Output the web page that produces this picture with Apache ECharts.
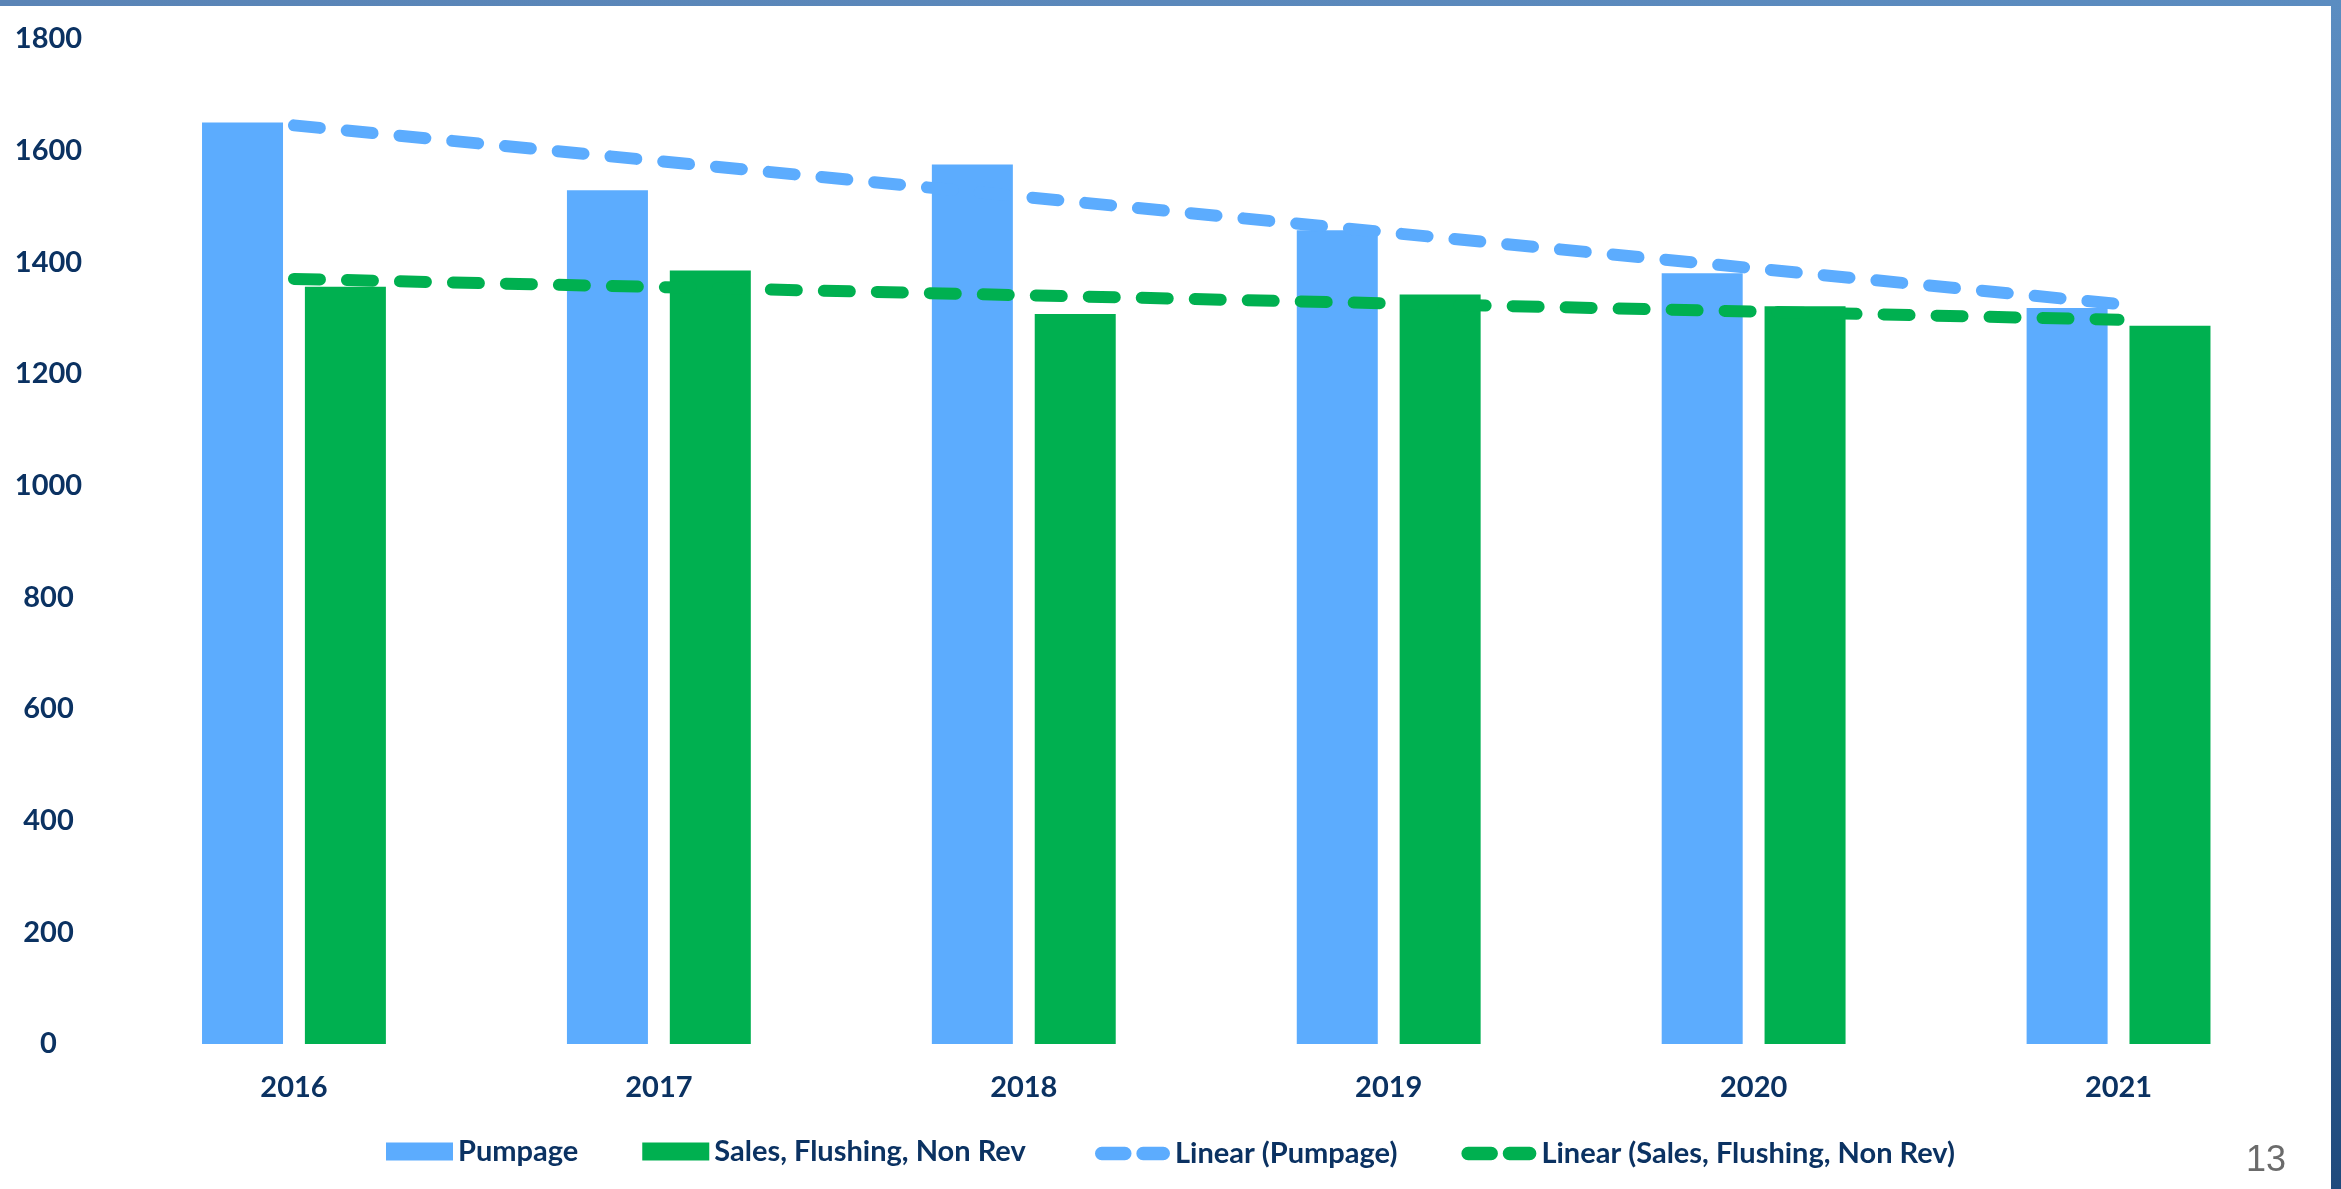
<!DOCTYPE html>
<html>
<head>
<meta charset="utf-8">
<script src="https://cdn.jsdelivr.net/npm/echarts@6/dist/echarts.min.js"></script>
<style>
html,body{margin:0;padding:0;background:#fff;}
#c{width:2341px;height:1189px;}
</style>
</head>
<body>
<div id="c"></div>
<script>
const categories = ['2016','2017','2018','2019','2020','2021'];
const pumpage = [1650, 1529, 1575, 1457, 1380, 1318];
const sales = [1356, 1385, 1307, 1342, 1321, 1286];
// trend lines: endpoints
const pumpageTrend = [1645, null, null, null, null, 1325];
const salesTrend = [1370, null, null, null, null, 1297];
const yTicks = {min: 0, max: 1800, interval: 200};

const navy = '#0b3262';
const blue = '#5cacfe';
const green = '#00b050';
const font = 'Lato, "Open Sans", sans-serif';
const dashIcon = 'path://M7,0 H31 A7,7 0 0 1 31,14 H7 A7,7 0 0 1 7,0 Z M50,0 H71 A7,7 0 0 1 71,14 H50 A7,7 0 0 1 50,0 Z';

const legendText = {color: navy, fontFamily: font, fontWeight: 'bold', fontSize: 29};

const chart = echarts.init(document.getElementById('c'), null, {renderer: 'canvas'});
chart.setOption({
  animation: false,
  backgroundColor: '#ffffff',
  grid: {left: 111.5, right: 40, top: 38.8, bottom: 145, containLabel: false},
  xAxis: {
    type: 'category',
    data: categories,
    axisLine: {show: false},
    axisTick: {show: false},
    axisLabel: {color: navy, fontFamily: font, fontWeight: 'bold', fontSize: 29, margin: 29}
  },
  yAxis: {
    type: 'value',
    min: yTicks.min, max: yTicks.max, interval: yTicks.interval,
    axisLine: {show: false},
    axisTick: {show: false},
    splitLine: {show: false},
    axisLabel: {color: navy, fontFamily: font, fontWeight: 'bold', fontSize: 29, margin: 63, align: 'center',
      formatter: function (v) { return String(v); }}
  },
  legend: [
    {
      top: 1132, left: 381,
      itemWidth: 67, itemHeight: 18, itemGap: 64,
      textStyle: legendText,
      data: [
        {name: 'Pumpage', icon: 'rect'},
        {name: 'Sales, Flushing, Non Rev', icon: 'rect'}
      ]
    },
    {
      top: 1134, left: 1090,
      itemWidth: 75, itemHeight: 14, itemGap: 64,
      textStyle: legendText,
      data: [
        {name: 'Linear (Pumpage)', icon: dashIcon},
        {name: 'Linear (Sales, Flushing, Non Rev)', icon: dashIcon}
      ]
    }
  ],
  series: [
    {name: 'Pumpage', type: 'bar', data: pumpage, itemStyle: {color: blue}, barWidth: 81, barGap: '27%', z: 2},
    {name: 'Sales, Flushing, Non Rev', type: 'bar', data: sales, itemStyle: {color: green}, barWidth: 81, barGap: '27%', z: 2},
    {name: 'Linear (Pumpage)', type: 'line', data: pumpageTrend, connectNulls: true, symbol: 'none', z: 5,
      lineStyle: {color: blue, width: 12, type: [26, 27], cap: 'round'}, itemStyle: {color: blue}},
    {name: 'Linear (Sales, Flushing, Non Rev)', type: 'line', data: salesTrend, connectNulls: true, symbol: 'none', z: 5,
      lineStyle: {color: green, width: 12, type: [26, 27], cap: 'round'}, itemStyle: {color: green}}
  ],
  graphic: [
    {type: 'rect', shape: {x: 0, y: 0, width: 2341, height: 6}, silent: true,
      style: {fill: {type: 'linear', x: 0, y: 0, x2: 1, y2: 0, colorStops: [{offset: 0, color: '#5a84b6'}, {offset: 1, color: '#5b8cc0'}]}}},
    {type: 'rect', shape: {x: 2331, y: 0, width: 10, height: 1189}, silent: true,
      style: {fill: {type: 'linear', x: 0, y: 0, x2: 0, y2: 1, colorStops: [{offset: 0, color: '#5b8dc1'}, {offset: 0.5, color: '#4472a8'}, {offset: 1, color: '#1f4a7c'}]}}},
    {type: 'text', x: 2266, y: 1161, silent: true,
      style: {text: '13', fill: '#6b6b6b', font: '36px "Liberation Sans", sans-serif', align: 'center', verticalAlign: 'middle'}}
  ]
});
</script>
</body>
</html>
